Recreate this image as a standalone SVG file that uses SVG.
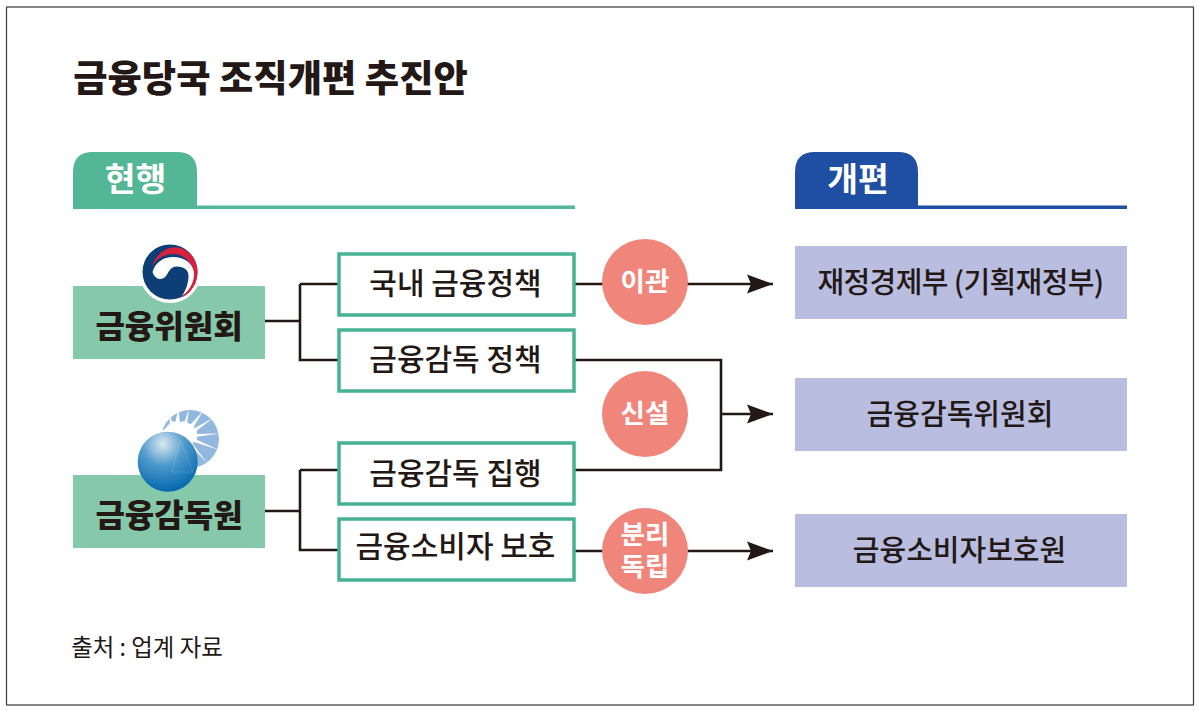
<svg xmlns="http://www.w3.org/2000/svg" width="1200" height="711" viewBox="0 0 1200 711">
<style>
text{font-family:"Noto Sans CJK KR","Noto Sans",sans-serif;text-anchor:middle;fill:#231815}
.box{fill:#fff;stroke:#46b293;stroke-width:3.5}
.org{fill:#86c8aa}
.dst{fill:#b9bee0}
.cir{fill:#f0867b}
.line{fill:none;stroke:#231815;stroke-width:2.6}
.lb{font-size:30px;font-weight:500}
.ld{font-size:29px;font-weight:500}
.og{font-size:32px;font-weight:900}
.cl{font-size:26.500px;font-weight:700;fill:#fff}
.hd{font-size:33.500px;font-weight:700;fill:#fff}
</style>
<defs>
<marker id="arr" markerUnits="userSpaceOnUse" markerWidth="27" markerHeight="20" refX="26" refY="10" orient="auto"><path d="M0 0.5L26 10L0 19.5L4 10Z" fill="#231815"/></marker>
<radialGradient id="ballr" cx="0.42" cy="0.2" r="0.8"><stop offset="0" stop-color="#dde9f2"/><stop offset="0.45" stop-color="#4f9acb"/><stop offset="1" stop-color="#0468ad"/></radialGradient>
</defs>
<rect x="0" y="0" width="1200" height="711" fill="#fff"/>
<rect x="6.500" y="7" width="1187" height="698" fill="#fff" stroke="#3a3a3a" stroke-width="1.200"/>
<text id="title" x="270.500" y="92" style="font-size:37.300px;font-weight:900">금융당국 조직개편 추진안</text>

<g id="header-current">
<path d="M73 207V172Q73 152 93 152H177Q197 152 197 172V207Z" fill="#53b795"/>
<rect x="73" y="205.500" width="502" height="3.500" fill="#53b795"/>
<text class="hd" x="135.500" y="191">현행</text>
</g>
<g id="header-reform">
<path d="M795 207V172Q795 152 815 152H898Q918 152 918 172V207Z" fill="#1f4fa3"/>
<rect x="795" y="205.500" width="332" height="3.500" fill="#1f4fa3"/>
<text class="hd" x="858" y="191">개편</text>
</g>

<g id="connectors">
<path class="line" d="M265 321H300M300 284H338M300 284V360H338"/>
<path class="line" d="M265 511H300M300 470H338M300 470V550H338"/>
<path class="line" d="M575 284H773" marker-end="url(#arr)"/>
<path class="line" d="M575 360H721V470H575"/>
<path class="line" d="M721 414H773" marker-end="url(#arr)"/>
<path class="line" d="M575 551H773" marker-end="url(#arr)"/>
</g>

<g id="fsc">
<rect class="org" x="73" y="286" width="192" height="73"/>
<circle cx="170" cy="272" r="31" fill="#fff"/>
<circle cx="170" cy="272" r="27.500" fill="#0d3f76"/>
<path d="M151.700 266.700C156 254 166 247.300 175 247.300C188 247.300 197.500 259 197.500 272C197.500 284 191 293 181.700 297.700C189 290 192.700 282 192.700 273.300C192.700 262 184 254 173.300 254C164 254 156 259 151.700 266.700Z" fill="#d8213f"/>
<path d="M152.500 272C155 263 163 257 173 257C185 257 194 264 194 274C194 283 189 291 182 296C186 290 188.500 283 188.500 276C188.500 270 184 266.500 177 266.500C170 266.500 169 272 166 276C162 281 155 280 152.500 272Z" fill="#fff"/>
<text class="og" x="169" y="338">금융위원회</text>
</g>

<g id="fss">
<rect class="org" x="73" y="475" width="192" height="73"/>
<circle cx="190" cy="439" r="29" fill="#93b8e0"/>
<path d="M160 430H193V455H160Z" fill="#fff"/>
<path d="M161 433L172 421L178 423L184 421L192 425L197 431L197 440L185 447H165Z" fill="#fff"/>
<g fill="#fff">
<path d="M170 425L169 413L172.500 423Z"/>
<path d="M175 423L178.500 409L180 423Z"/>
<path d="M184 423L189 409L187 424Z"/>
<path d="M190 425L203 411L193 428Z"/>
<path d="M193 429L213 418L195 432Z"/>
<path d="M195 434L220 433.500L195 437Z"/>
<path d="M195 439L219 450L194 442Z"/>
<path d="M192 443L207 463L190 445Z"/>
</g>
<circle cx="167.700" cy="461.700" r="30" fill="url(#ballr)"/>
<path d="M180 440L193 472H172Z" fill="none" stroke="#cfe2f0" stroke-width="0.600" opacity="0.250"/>
<text class="og" x="169" y="527">금융감독원</text>
</g>

<g id="n1"><rect class="box" x="339" y="254" width="235" height="61"/><text class="lb" x="455.500" y="294">국내 금융정책</text></g>
<g id="n2"><rect class="box" x="339" y="330" width="235" height="61"/><text class="lb" x="455.500" y="370">금융감독 정책</text></g>
<g id="n3"><rect class="box" x="339" y="443" width="235" height="61"/><text class="lb" x="455.500" y="484">금융감독 집행</text></g>
<g id="n4"><rect class="box" x="339" y="519" width="235" height="61"/><text class="lb" x="455.500" y="557">금융소비자 보호</text></g>

<g id="c1"><circle class="cir" cx="645" cy="282" r="43"/><text class="cl" x="645" y="291">이관</text></g>
<g id="c2"><circle class="cir" cx="645" cy="414" r="43"/><text class="cl" x="645" y="423">신설</text></g>
<g id="c3"><circle class="cir" cx="645" cy="551" r="43"/><text class="cl"><tspan x="645" y="544">분리</tspan><tspan x="645" y="576">독립</tspan></text></g>

<g id="d1"><rect class="dst" x="795" y="246" width="332" height="73"/><text class="ld" x="960.500" y="293" style="letter-spacing:-0.6px">재정경제부 (기획재정부)</text></g>
<g id="d2"><rect class="dst" x="795" y="378" width="332" height="73"/><text class="ld" x="960" y="425">금융감독위원회</text></g>
<g id="d3"><rect class="dst" x="795" y="514" width="332" height="73"/><text class="ld" x="959.500" y="561">금융소비자보호원</text></g>

<text id="source" x="147" y="656" style="font-size:23.400px;font-weight:400">출처 : 업계 자료</text>
</svg>
